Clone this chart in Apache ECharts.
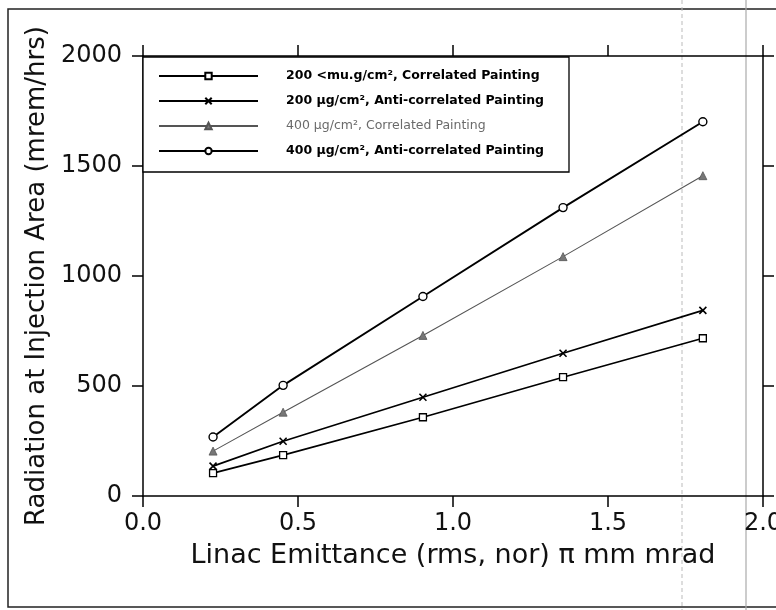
<!DOCTYPE html>
<html>
<head>
<meta charset="utf-8">
<script src="https://cdn.jsdelivr.net/npm/echarts@6/dist/echarts.min.js"></script>
<style>html,body{margin:0;padding:0;background:#fff}#c{width:776px;height:610px}</style>
</head>
<body>
<div id="c"></div>
<script>
const xValues = [0.226, 0.452, 0.903, 1.355, 1.806];
const s200Corr = [104, 186, 358, 540, 717];
const s200Anti = [136, 249, 449, 649, 844];
const s400Corr = [204, 381, 730, 1088, 1456];
const s400Anti = [268, 503, 907, 1311, 1701];
const seriesNames = [
  '200 <mu.g/cm\u00B2, Correlated Painting',
  '200 \u03BCg/cm\u00B2, Anti-correlated Painting',
  '400 \u03BCg/cm\u00B2, Correlated Painting',
  '400 \u03BCg/cm\u00B2, Anti-correlated Painting'
];
const xTicks = [0, 0.5, 1.0, 1.5, 2.0];
const yTicks = [0, 500, 1000, 1500, 2000];
const xTitle = 'Linac Emittance (rms, nor) \u03C0 mm mrad';
const yTitle = 'Radiation at Injection Area (mrem/hrs)';

const pairs = v => xValues.map((x, i) => [x, v[i]]);
const FONT = 'DejaVu Sans';
const chart = echarts.init(document.getElementById('c'), null, {renderer: 'canvas'});

function mkSeries(name, vals, symbol, size, lineColor, lw, itemStyle) {
  return {
    name: name, type: 'line', data: pairs(vals), symbol: symbol, symbolSize: size,
    showSymbol: true, animation: false,
    lineStyle: {color: lineColor, width: lw},
    itemStyle: itemStyle, z: 2
  };
}

const axisCommon = {
  axisLine: {show: true, onZero: false, lineStyle: {color: '#000', width: 1.5}},
  axisTick: {show: true, inside: false, length: 11, lineStyle: {color: '#000', width: 1.5}},
  splitLine: {show: false}
};

chart.setOption({
  backgroundColor: '#fff',
  animation: false,
  grid: {left: 143, right: 13, top: 56, bottom: 114, containLabel: false, outerBoundsMode: 'none'},
  xAxis: [
    Object.assign({
      type: 'value', min: xTicks[0], max: xTicks[xTicks.length - 1], interval: 0.5,
      position: 'bottom',
      axisLabel: {color: '#111', fontFamily: FONT, fontSize: 24, margin: 16,
        formatter: v => v.toFixed(1)},
      name: xTitle, nameLocation: 'middle', nameGap: 46,
      nameTextStyle: {color: '#111', fontFamily: FONT, fontSize: 27}
    }, axisCommon),
    Object.assign({
      type: 'value', min: xTicks[0], max: xTicks[xTicks.length - 1], interval: 0.5,
      position: 'top', axisLabel: {show: false}
    }, axisCommon)
  ],
  yAxis: [
    Object.assign({
      type: 'value', min: yTicks[0], max: yTicks[yTicks.length - 1], interval: 500,
      position: 'left',
      axisLabel: {color: '#111', fontFamily: FONT, fontSize: 24, margin: 21,
        formatter: v => String(v)},
      name: yTitle, nameLocation: 'middle', nameGap: 90, nameRotate: 90,
      nameTextStyle: {color: '#111', fontFamily: FONT, fontSize: 26}
    }, axisCommon),
    Object.assign({
      type: 'value', min: yTicks[0], max: yTicks[yTicks.length - 1], interval: 500,
      position: 'right', axisLabel: {show: false}
    }, axisCommon)
  ],
  legend: {
    orient: 'vertical', left: 158, top: 69, padding: 0,
    itemWidth: 99, itemHeight: 8, itemGap: 11,
    textStyle: {fontFamily: FONT, fontSize: 12.5, fontWeight: 'bold', color: '#000',
      lineHeight: 14, padding: [0, 0, 0, 23]},
    data: [
      {name: seriesNames[0]},
      {name: seriesNames[1]},
      {name: seriesNames[2], textStyle: {color: '#6a6a6a', fontWeight: 'normal'}},
      {name: seriesNames[3]}
    ],
    z: 10
  },
  graphic: [
    {type: 'rect', z: 0, silent: true,
      shape: {x: 8, y: 9, width: 820, height: 598},
      style: {fill: 'none', stroke: '#222', lineWidth: 1.5}},
    {type: 'line', z: 0, silent: true,
      shape: {x1: 682, y1: 0, x2: 682, y2: 610},
      style: {stroke: '#bbb', lineWidth: 1, lineDash: [4, 3]}},
    {type: 'line', z: 0, silent: true,
      shape: {x1: 746, y1: 0, x2: 746, y2: 610},
      style: {stroke: '#aaa', lineWidth: 1.2}},
    {type: 'rect', z: 9, silent: true,
      shape: {x: 143, y: 57, width: 426, height: 115},
      style: {fill: '#fff', stroke: '#000', lineWidth: 1.3}}
  ],
  series: [
    mkSeries(seriesNames[0], s200Corr, 'rect', 7, '#000', 1.7,
      {color: '#fff', borderColor: '#000', borderWidth: 1.3}),
    mkSeries(seriesNames[1], s200Anti, 'path://M0,0L10,10M10,0L0,10', 7, '#000', 1.7,
      {color: '#000', borderColor: '#000', borderWidth: 1.6}),
    mkSeries(seriesNames[2], s400Corr, 'triangle', 8, '#555', 1.1,
      {color: '#777', borderColor: '#555', borderWidth: 0.8}),
    mkSeries(seriesNames[3], s400Anti, 'circle', 8, '#000', 1.9,
      {color: '#fff', borderColor: '#000', borderWidth: 1.4})
  ]
});
</script>
</body>
</html>
